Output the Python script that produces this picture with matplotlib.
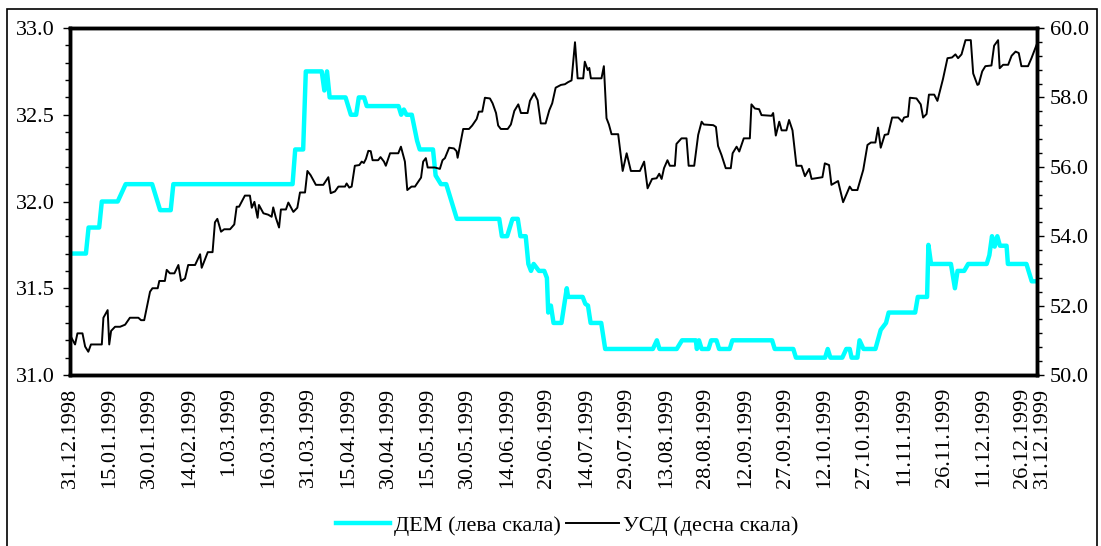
import pandas as pd
import matplotlib.pyplot as plt
from matplotlib.patches import Rectangle
from matplotlib.ticker import MultipleLocator, FormatStrFormatter
from matplotlib.transforms import ScaledTranslation

plt.rcParams['font.family'] = ['Liberation Serif', 'DejaVu Serif']
plt.rcParams['font.size'] = 16

start = pd.Timestamp('1998-12-31')

# DEM (left scale): days since 31.12.1998, value
dem_days = [0, 6, 7, 11, 12, 18, 21, 31, 34, 38, 39, 84, 85, 88, 89, 95, 96, 97, 98,
            104, 105, 106, 108, 109, 111, 112, 124, 125, 126, 127, 129, 131, 132, 137,
            138, 140, 142, 144, 146, 162, 163, 165, 167, 169, 170, 172, 173, 174, 175,
            177, 179, 180, 180.5, 181.5, 182.5, 185.5, 187.5, 188, 193.5, 194.5, 195.5,
            196.5, 200.5, 202, 220, 221.5, 222.5, 229, 231, 236.2, 236.6, 237.4, 238.4,
            241, 242, 244, 245, 249, 250, 265, 266, 273, 274, 285, 286, 287, 291.5, 293,
            294.3, 295, 297.2, 298, 299.5, 304, 306, 308, 309, 319, 320, 323.5, 324, 325,
            332.5, 334, 335, 337.5, 339, 346, 347, 348, 349, 350, 351, 353.5, 354, 361,
            363, 365]
dem_vals = [31.70, 31.70, 31.85, 31.85, 32.00, 32.00, 32.10, 32.10, 31.95, 31.95, 32.10,
            32.10, 32.30, 32.30, 32.75, 32.75, 32.64, 32.75, 32.60, 32.60, 32.55, 32.50,
            32.50, 32.60, 32.60, 32.55, 32.55, 32.50, 32.53, 32.50, 32.50, 32.35, 32.30,
            32.30, 32.15, 32.10, 32.10, 32.00, 31.90, 31.90, 31.80, 31.80, 31.90, 31.90,
            31.80, 31.80, 31.64, 31.60, 31.64, 31.60, 31.60, 31.56, 31.36, 31.40, 31.30,
            31.30, 31.50, 31.45, 31.45, 31.41, 31.40, 31.30, 31.30, 31.15, 31.15, 31.20,
            31.15, 31.15, 31.20, 31.20, 31.15, 31.20, 31.15, 31.15, 31.20, 31.20, 31.15,
            31.15, 31.20, 31.20, 31.15, 31.15, 31.10, 31.10, 31.15, 31.10, 31.10, 31.15,
            31.15, 31.10, 31.10, 31.20, 31.15, 31.15, 31.26, 31.30, 31.36, 31.36, 31.45,
            31.45, 31.75, 31.64, 31.64, 31.50, 31.60, 31.60, 31.64, 31.64, 31.69, 31.80,
            31.74, 31.80, 31.745, 31.745, 31.64, 31.64, 31.54, 31.54]

# USD (right scale)
usd_days = [0, 1.9, 2.8, 4.7, 5.7, 6.9, 7.9, 12, 12.6, 14.2, 14.8, 15.5, 17, 18.9, 20.8,
            22.6, 25.8, 26.8, 28, 30.2, 31.1, 33.1, 33.7, 35.8, 36.5, 37.7, 39.4, 40.9,
            41.9, 43.4, 44.6, 47.2, 49.1, 49.7, 52, 53.8, 54.7, 55.6, 57, 58.2, 60.4, 62,
            62.9, 63.8, 66, 67.9, 68.6, 69.6, 70.8, 71.3, 73, 74.8, 76.1, 76.7, 77.7, 78.9,
            79.6, 81.5, 82.4, 84.3, 85.8, 86.8, 88.7, 89.6, 90.8, 91.6, 92.8, 95.6, 97.5,
            98.4, 100, 101.3, 103.8, 104.4, 105.4, 106.3, 107.5, 109.2, 110.1, 110.9,
            111.7, 112.6, 113.5, 114.2, 116.3, 117.2, 118.5, 119.2, 120.8, 123.9, 124.9,
            126.4, 127.3, 128.9, 130.2, 132.5, 133.3, 134.3, 135, 137.7, 139.6, 140.6,
            141.5, 143.1, 144.9, 145.9, 146.3, 148.4, 150.6, 151.8, 153.5, 154.3, 155.6,
            156.6, 158.5, 159.5, 160.8, 161.6, 162.6, 165.2, 166.4, 167.7, 169.2, 170.2,
            172.7, 173.6, 175.2, 176.5, 177.7, 179.5, 180.9, 182, 183.3, 185.3, 186.8, 188,
            189.3, 190.6, 191.6, 193.7, 194.3, 195.4, 196, 196.6, 200.6, 201.5, 202.5,
            203.4, 204.4, 206.9, 208.6, 210.1, 211.7, 215.1, 216.7, 218, 219.7, 221.4,
            222.4, 223.3, 224.2, 225.5, 226.4, 228.3, 228.9, 230.8, 232.7, 233.5, 235.6,
            237.1, 238.4, 239.2, 242.8, 243.8, 244.6, 245.9, 247.5, 249.4, 250.1, 251.6,
            252.6, 254.3, 256.6, 257.2, 258.5, 260.1, 261, 264.8, 265.4, 266.4, 267.7,
            268.6, 270.4, 271.4, 272.7, 274.2, 276.1, 277.4, 279, 279.9, 284, 284.9, 286.5,
            287.4, 289.9, 291.8, 294.3, 295.2, 297.2, 299.4, 301, 302.3, 304, 305, 306,
            307.5, 308.8, 310.3, 312.6, 314.1, 314.8, 316.3, 317, 319.5, 321.1, 322, 323.3,
            324.2, 326.2, 327.4, 329.5, 331.2, 332.9, 334.2, 335.2, 336.5, 338, 340, 340.9,
            342.5, 343, 344.3, 345.5, 347.8, 348.8, 350.3, 350.9, 352.2, 354.1, 355.4,
            356.9, 358.1, 359.1, 361.6, 362.9, 365]
usd_vals = [51.15, 50.88, 51.20, 51.20, 50.82, 50.67, 50.88, 50.88, 51.65, 51.87, 50.88,
            51.27, 51.39, 51.39, 51.45, 51.65, 51.65, 51.58, 51.58, 52.40, 52.50, 52.50,
            52.71, 52.71, 53.03, 52.93, 52.93, 53.17, 52.71, 52.78, 53.17, 53.17, 53.48,
            53.09, 53.54, 53.54, 54.40, 54.50, 54.13, 54.20, 54.20, 54.34, 54.85, 54.85,
            55.17, 55.17, 54.82, 54.99, 54.53, 54.90, 54.66, 54.62, 54.56, 54.83, 54.53,
            54.25, 54.77, 54.77, 54.97, 54.70, 54.82, 55.26, 55.26, 55.88, 55.76, 55.65,
            55.48, 55.48, 55.70, 55.24, 55.29, 55.43, 55.43, 55.52, 55.40, 55.43, 56.03,
            56.05, 56.15, 56.11, 56.23, 56.46, 56.45, 56.19, 56.19, 56.28, 56.15, 56.03,
            56.39, 56.39, 56.58, 56.15, 55.33, 55.43, 55.43, 55.69, 56.15, 56.25, 55.98,
            55.98, 55.94, 56.19, 56.25, 56.55, 56.53, 56.45, 56.26, 57.09, 57.09, 57.19,
            57.38, 57.59, 57.59, 57.99, 57.97, 57.83, 57.55, 57.19, 57.09, 57.09, 57.22,
            57.61, 57.80, 57.55, 57.55, 57.90, 58.12, 57.92, 57.25, 57.25, 57.63, 57.83,
            58.28, 58.36, 58.38, 58.44, 58.49, 59.59, 58.55, 58.55, 59.03, 58.79, 58.85,
            58.55, 58.55, 58.90, 57.40, 57.22, 56.94, 56.94, 55.88, 56.39, 55.88, 55.88,
            56.15, 55.38, 55.65, 55.67, 55.80, 55.65, 55.96, 56.19, 56.03, 56.03, 56.66,
            56.82, 56.82, 56.03, 56.03, 56.92, 57.30, 57.22, 57.20, 57.15, 56.60, 56.34,
            55.96, 55.96, 56.39, 56.58, 56.44, 56.82, 56.82, 57.80, 57.68, 57.66, 57.49,
            57.47, 57.55, 56.90, 57.30, 57.05, 57.05, 57.35, 57.05, 56.03, 56.03, 55.73,
            55.94, 55.65, 55.70, 56.10, 56.05, 55.48, 55.59, 54.98, 55.43, 55.33, 55.33,
            55.91, 56.63, 56.70, 56.70, 57.13, 56.55, 56.92, 56.94, 57.42, 57.42, 57.30,
            57.42, 57.45, 57.99, 57.97, 57.80, 57.42, 57.52, 58.08, 58.08, 57.90, 58.53,
            59.13, 59.15, 59.24, 59.13, 59.24, 59.65, 59.65, 58.69, 58.36, 58.38, 58.75,
            58.90, 58.92, 59.49, 59.65, 58.84, 58.94, 58.94, 59.20, 59.32, 59.28, 58.90,
            58.90, 59.13, 59.55]

tick_labels = ['31.12.1998', '15.01.1999', '30.01.1999', '14.02.1999', '1.03.1999',
               '16.03.1999', '31.03.1999', '15.04.1999', '30.04.1999', '15.05.1999',
               '30.05.1999', '14.06.1999', '29.06.1999', '14.07.1999', '29.07.1999',
               '13.08.1999', '28.08.1999', '12.09.1999', '27.09.1999', '12.10.1999',
               '27.10.1999', '11.11.1999', '26.11.1999', '11.12.1999', '26.12.1999',
               '31.12.1999']

dem_dates = start + pd.to_timedelta(dem_days, unit='D')
usd_dates = start + pd.to_timedelta(usd_days, unit='D')
tick_dates = pd.to_datetime(tick_labels, format='%d.%m.%Y')

fig = plt.figure(figsize=(11.01, 5.46), dpi=100)
ax = fig.add_axes([0.0636, 0.3132, 0.8783, 0.6355])
ax2 = ax.twinx()

l1, = ax.plot(dem_dates, dem_vals, color='#00FFFF', linewidth=3.2,
              label='ДЕМ (лева скала)')
l2, = ax2.plot(usd_dates, usd_vals, color='black', linewidth=1.4,
               label='УСД (десна скала)')

ax.set_xlim(start, pd.Timestamp('1999-12-31'))
ax.set_ylim(31.0, 33.0)
ax2.set_ylim(50.0, 60.0)

ax.set_xticks(tick_dates)
ax.set_xticklabels(tick_labels, rotation=90)
ax.tick_params(axis='x', length=0, pad=9)

# last two labels sit very close; nudge them apart like the original
xlabels = ax.get_xticklabels()
xlabels[-2].set_transform(xlabels[-2].get_transform()
                          + ScaledTranslation(-1 / 100, 0, fig.dpi_scale_trans))
xlabels[-1].set_transform(xlabels[-1].get_transform()
                          + ScaledTranslation(5 / 100, 0, fig.dpi_scale_trans))

ax.yaxis.set_major_locator(MultipleLocator(0.5))
ax.yaxis.set_minor_locator(MultipleLocator(0.1))
ax.yaxis.set_major_formatter(FormatStrFormatter('%.1f'))
ax.tick_params(axis='y', which='major', length=5, width=1, pad=6)
ax.tick_params(axis='y', which='minor', length=3.5, width=1)

ax2.yaxis.set_major_locator(MultipleLocator(2))
ax2.yaxis.set_minor_locator(MultipleLocator(0.4))
ax2.yaxis.set_major_formatter(FormatStrFormatter('%.1f'))
ax2.tick_params(axis='y', which='major', length=5, width=1, pad=4)
ax2.tick_params(axis='y', which='minor', length=3.5, width=1)

for a in (ax, ax2):
    for s in a.spines.values():
        s.set_linewidth(2.5)

fig.legend(handles=[l1, l2], loc='center', bbox_to_anchor=(0.5155, 0.038), ncol=2,
           frameon=False, handlelength=2.4, handletextpad=0.2, columnspacing=0.2)

# outer border around the figure
fig.patches.append(Rectangle((7 / 1101, -0.05), 1090 / 1101, 1.05 - 9 / 546,
                             transform=fig.transFigure, fill=False,
                             edgecolor='black', linewidth=1.2))

fig.savefig('out.png', dpi=100)
